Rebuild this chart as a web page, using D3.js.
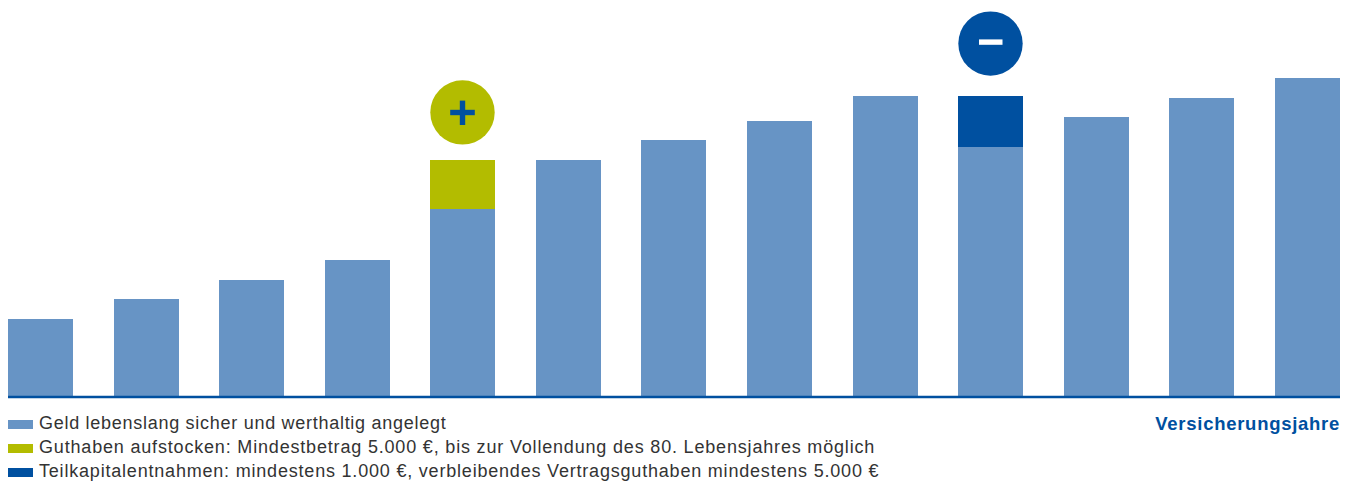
<!DOCTYPE html>
<html><head><meta charset="utf-8">
<script src="https://cdn.jsdelivr.net/npm/d3@7"></script>
<style>html,body{margin:0;padding:0;background:#fff}svg{display:block}text{font-family:"Liberation Sans",Arial,sans-serif}</style>
</head><body><svg id="c" width="1350" height="482"></svg>
<script>
const years = ["1","2","3","4","5","6","7","8","9","10","11","12","13"];
const base = [78,98,117,137,188,237,257,276,301,250,280,299,319];
const topUp = [0,0,0,0,49,0,0,0,0,0,0,0,0];
const withdrawal = [0,0,0,0,0,0,0,0,0,51,0,0,0];
const legendLabels = [
 "Geld lebenslang sicher und werthaltig angelegt",
 "Guthaben aufstocken: Mindestbetrag 5.000 €, bis zur Vollendung des 80. Lebensjahres möglich",
 "Teilkapitalentnahmen: mindestens 1.000 €, verbleibendes Vertragsguthaben mindestens 5.000 €"];
const colors = ["#6794c5","#b3bc00","#0050a0"];
const axisLabel = "Versicherungsjahre";

const svg = d3.select("#c");
const x = d3.scaleBand().domain(years).range([8,1340]).paddingInner(0.384).paddingOuter(0);
const y = d3.scaleLinear().domain([0,397]).range([397,0]);
const bx = d => Math.round(x(d));
const bw = Math.round(x.bandwidth());

svg.selectAll(".b").data(years).join("rect").attr("class","b")
 .attr("x",bx).attr("width",bw)
 .attr("y",(d,i)=>y(base[i])).attr("height",(d,i)=>y(0)-y(base[i])).attr("fill",colors[0]);
[[topUp,1],[withdrawal,2]].forEach(([arr,c])=>{
 svg.selectAll(".s"+c).data(years.filter((d,i)=>arr[i]>0)).join("rect").attr("class","s"+c)
  .attr("x",bx).attr("width",bw)
  .attr("y",d=>{const i=years.indexOf(d);return y(base[i]+arr[i]);})
  .attr("height",d=>{const i=years.indexOf(d);return y(0)-y(arr[i]);})
  .attr("fill",colors[c]);
});
svg.append("line").attr("x1",8).attr("x2",1340).attr("y1",397).attr("y2",397).attr("stroke",colors[2]).attr("stroke-width",2.6);

// badges
const bi=years.indexOf("5"), mi=years.indexOf("10");
const cxP=bx("5")+bw/2, cyP=y(base[bi]+topUp[bi])-47.6;
const cxM=bx("10")+bw/2, cyM=y(base[mi]+withdrawal[mi])-52.4;
svg.append("circle").attr("cx",cxP).attr("cy",cyP).attr("r",32.2).attr("fill",colors[1]);
svg.append("rect").attr("x",cxP-12.3).attr("y",cyP-2.6).attr("width",24.6).attr("height",5.4).attr("fill",colors[2]);
svg.append("rect").attr("x",cxP-2.7).attr("y",cyP-11.8).attr("width",5.4).attr("height",24.4).attr("fill",colors[2]);
svg.append("circle").attr("cx",cxM).attr("cy",cyM).attr("r",32.2).attr("fill",colors[2]);
svg.append("rect").attr("x",cxM-11.5).attr("y",cyM-4.2).attr("width",23.5).attr("height",5.4).attr("fill","#fff");

// legend
const ly=[420,444,468];
const tracking=[0.72,0.82,0.8];
legendLabels.forEach((t,i)=>{
 svg.append("rect").attr("x",8).attr("y",ly[i]).attr("width",25).attr("height",9).attr("fill",colors[i]);
 svg.append("text").attr("x",39).attr("y",ly[i]+9).attr("font-size",18).attr("letter-spacing",tracking[i]).attr("fill","#333").text(t);
});
svg.append("text").attr("x",1340).attr("y",430).attr("text-anchor","end").attr("font-size",18.5).attr("font-weight",700).attr("letter-spacing",0.72).attr("fill",colors[2]).text(axisLabel);
</script></body></html>
